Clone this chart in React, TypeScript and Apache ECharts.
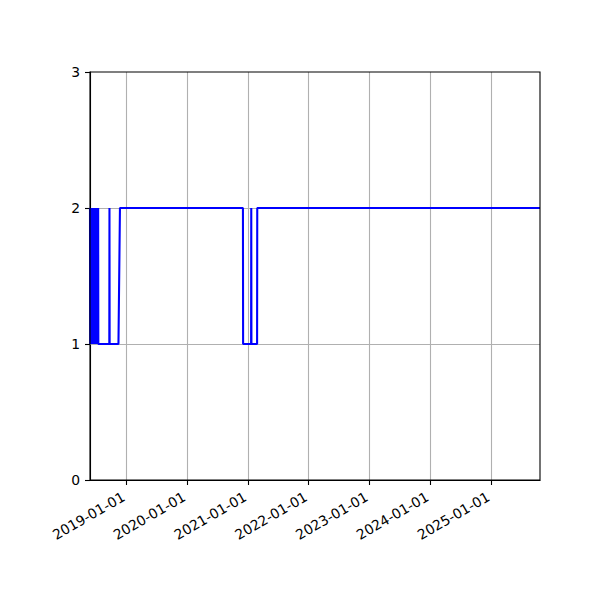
import React, { useEffect, useRef } from "react";
import * as echarts from "echarts";

const obsDates: string[] = [
  "2018-05-29", "2018-05-30", "2018-06-01", "2018-06-02", "2018-06-04", "2018-06-05",
  "2018-06-07", "2018-06-09", "2018-06-10", "2018-06-12", "2018-06-14", "2018-06-15",
  "2018-06-17", "2018-06-19", "2018-06-20", "2018-06-22", "2018-06-24", "2018-06-25",
  "2018-06-27", "2018-06-29", "2018-06-30", "2018-07-02", "2018-07-04", "2018-07-05",
  "2018-07-07", "2018-07-09", "2018-07-10", "2018-07-12", "2018-07-14", "2018-07-16",
  "2018-07-17", "2018-07-18",
  "2018-09-22", "2018-09-23", "2018-09-24",
  "2018-11-16", "2018-11-25",
  "2020-12-03", "2020-12-04",
  "2021-01-21", "2021-01-22", "2021-01-23",
  "2021-02-26", "2021-02-27",
  "2025-10-23",
];
const obsValues: number[] = [
  2, 1, 2, 1, 2, 1,
  2, 1, 2, 1, 2, 1,
  2, 1, 2, 1, 2, 1,
  2, 1, 2, 1, 2, 1,
  2, 1, 2, 1, 2, 1,
  2, 1,
  1, 2, 1,
  1, 2,
  2, 1,
  1, 2, 1,
  1, 2,
  2,
];
const xTickDates: string[] = [
  "2019-01-01", "2020-01-01", "2021-01-01", "2022-01-01",
  "2023-01-01", "2024-01-01", "2025-01-01",
];
const xRange: string[] = ["2018-05-29", "2025-10-23"];
const yTicks: number[] = [0, 1, 2, 3];

function ts(s: string): number {
  const [y, m, d] = s.split("-").map(Number);
  return Date.UTC(y, m - 1, d);
}
function pad2(n: number): string {
  return n < 10 ? "0" + n : "" + n;
}
function fmt(v: number): string {
  const d = new Date(v);
  return d.getUTCFullYear() + "-" + pad2(d.getUTCMonth() + 1) + "-" + pad2(d.getUTCDate());
}

const FONT = "DejaVu Sans";

export default function App() {
  const ref = useRef<HTMLDivElement>(null);
  useEffect(() => {
    if (!ref.current) return;
    const chart = echarts.init(ref.current, undefined, { renderer: "svg" });
    const tickTs = xTickDates.map(ts);
    const seriesData = obsDates.map((d, i) => [ts(d), obsValues[i]]);
    const innerY = yTicks.slice(1, yTicks.length - 1);
    chart.setOption({
      animation: false,
      backgroundColor: "#ffffff",
      grid: {
        left: 90,
        right: 60,
        top: 72,
        bottom: 120,
        show: true,
        borderColor: "#000000",
        borderWidth: 1.1,
        backgroundColor: "transparent",
        z: 5,
      },
      xAxis: {
        type: "value",
        min: ts(xRange[0]),
        max: ts(xRange[1]),
        axisLine: { show: true, lineStyle: { color: "#000000", width: 1.1 } },
        axisTick: {
          show: true,
          customValues: tickTs,
          length: 5,
          lineStyle: { color: "#000000", width: 1.1 },
        },
        axisLabel: {
          customValues: tickTs,
          formatter: (v: number) => fmt(v),
          rotate: 30,
          margin: 14,
          padding: [0, 3, 0, 0],
          fontSize: 13.9,
          fontFamily: FONT,
          color: "#000000",
        },
        splitLine: { show: false },
      },
      yAxis: {
        type: "value",
        min: yTicks[0],
        max: yTicks[yTicks.length - 1],
        interval: 1,
        axisLine: { show: true, lineStyle: { color: "#000000", width: 1.1 } },
        axisTick: { show: true, length: 5, lineStyle: { color: "#000000", width: 1.1 } },
        axisLabel: {
          margin: 10,
          fontSize: 13.9,
          fontFamily: FONT,
          color: "#000000",
        },
        splitLine: { show: false },
      },
      series: [
        {
          type: "line",
          data: [],
          silent: true,
          markLine: {
            silent: true,
            z: 1,
            symbol: "none",
            label: { show: false },
            lineStyle: { color: "#b0b0b0", width: 1.1, type: "solid" },
            data: [
              ...tickTs.map((t) => ({ xAxis: t })),
              ...innerY.map((v) => ({ yAxis: v })),
            ],
          },
        },
        {
          type: "line",
          z: 3,
          data: seriesData,
          showSymbol: false,
          symbol: "none",
          lineStyle: { color: "#0000ff", width: 2.08 },
        },
      ],
    });
    return () => chart.dispose();
  }, []);
  return (
    <div
      ref={ref}
      style={{ position: "fixed", left: 0, top: 0, width: 600, height: 600 }}
    />
  );
}
